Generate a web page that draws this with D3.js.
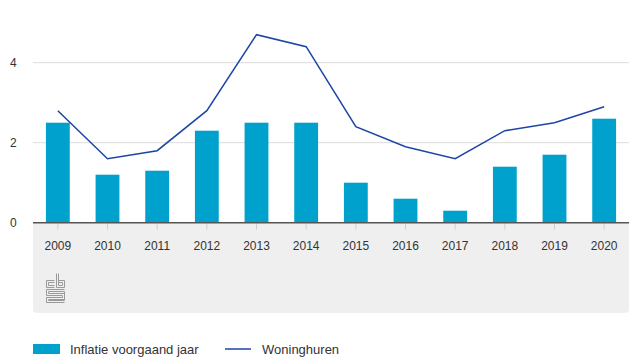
<!DOCTYPE html>
<html>
<head>
<meta charset="utf-8">
<script src="https://cdn.jsdelivr.net/npm/d3@7"></script>
<style>
html,body{margin:0;padding:0;background:#fff;}
svg{display:block;font-family:"Liberation Sans",Arial,sans-serif;}
</style>
</head>
<body>
<svg id="chart" width="640" height="360"></svg>
<script>
const years = ["2009","2010","2011","2012","2013","2014","2015","2016","2017","2018","2019","2020"];
const inflatie = [2.5,1.2,1.3,2.3,2.5,2.5,1.0,0.6,0.3,1.4,1.7,2.6];
const woninghuren = [2.8,1.6,1.8,2.8,4.7,4.4,2.4,1.9,1.6,2.3,2.5,2.9];
const yTicks = [0,2,4];
const legendLabels = ["Inflatie voorgaand jaar","Woninghuren"];

const barColor = "#00a1cd";
const lineColor = "#1c45a5";

const svg = d3.select("#chart");
const left = 33, right = 629, baseY = 222.7;

const x = d3.scaleBand().domain(years).range([left, right]).paddingInner(0.52).paddingOuter(0.26);
const y = d3.scaleLinear().domain([0,5]).range([baseY, baseY - 200]);

// grey footer panel
const panelTop = baseY, panelBottom = 313, r = 4;
svg.append("path")
  .attr("d", `M${left},${panelTop} H${right} V${panelBottom - r} Q${right},${panelBottom} ${right - r},${panelBottom} H${left + r} Q${left},${panelBottom} ${left},${panelBottom - r} Z`)
  .attr("fill", "#efefef");

// gridlines
svg.append("g").selectAll("line").data(yTicks.filter(d => d !== 0)).join("line")
  .attr("x1", left).attr("x2", right)
  .attr("y1", d => y(d)).attr("y2", d => y(d))
  .attr("stroke", "#dcdcdc").attr("stroke-width", 1);

// y labels
svg.append("g").selectAll("text").data(yTicks).join("text")
  .attr("x", 10).attr("y", d => y(d) + 4)
  .attr("font-size", 12).attr("fill", "#333")
  .text(d => d);

// x axis ticks
const xAxis = d3.axisBottom(x).tickSize(7).tickPadding(12);
const gx = svg.append("g").attr("transform", `translate(0,${baseY})`).call(xAxis);
gx.select(".domain").remove();
gx.selectAll(".tick line").attr("stroke", "#cfcfcf");
gx.selectAll(".tick text").attr("font-size", 12).attr("fill", "#333")
  .attr("font-family", "'Liberation Sans',Arial,sans-serif");

// bars
svg.append("g").selectAll("rect").data(years).join("rect")
  .attr("x", d => x(d)).attr("width", x.bandwidth())
  .attr("y", (d,i) => y(inflatie[i]))
  .attr("height", (d,i) => y(0) - y(inflatie[i]))
  .attr("fill", barColor);

// baseline
svg.append("line").attr("x1", left).attr("x2", right)
  .attr("y1", baseY).attr("y2", baseY)
  .attr("stroke", "#555").attr("stroke-width", 1.6);

// line
const line = d3.line().x((d,i) => x(years[i]) + x.bandwidth()/2).y(d => y(d));
svg.append("path").datum(woninghuren).attr("d", line)
  .attr("fill", "none").attr("stroke", lineColor).attr("stroke-width", 1.5);

// cbs logo (simplified)
const logo = svg.append("g").attr("transform", "translate(46,273)")
  .attr("fill", "none").attr("stroke", "#9a9a9a").attr("stroke-width", 1);
logo.append("path").attr("d", "M0.5,7.5 H8.5 M0.5,7.5 V14.5 H8.5 M2.5,9.5 H8.5 M2.5,9.5 V12.5 H8.5");
logo.append("path").attr("d", "M10.5,0.5 V14.5 H18.5 V7.5 H12.5 M12.5,0.5 V12.5 M12.5,9.5 H16.5 V12.5 H12.5");
logo.append("path").attr("d", "M0.5,16.5 H18.5 M0.5,16.5 V22.5 H16.5 V24.5 H0.5 V29.5 H18.5 M2.5,18.5 H18.5 V27.5 H2.5 V26.5 H18.5 M2.5,18.5 V20.5 H18.5");

// legend
const lg = svg.append("g");
lg.append("rect").attr("x", 33).attr("y", 344).attr("width", 27).attr("height", 10).attr("fill", barColor);
lg.append("text").attr("x", 70).attr("y", 353.5).attr("font-size", 13).attr("fill", "#333").text(legendLabels[0]);
lg.append("line").attr("x1", 225).attr("x2", 251).attr("y1", 349).attr("y2", 349)
  .attr("stroke", lineColor).attr("stroke-width", 1.5);
lg.append("text").attr("x", 262).attr("y", 353.5).attr("font-size", 13).attr("fill", "#333").text(legendLabels[1]);
</script>
</body>
</html>
